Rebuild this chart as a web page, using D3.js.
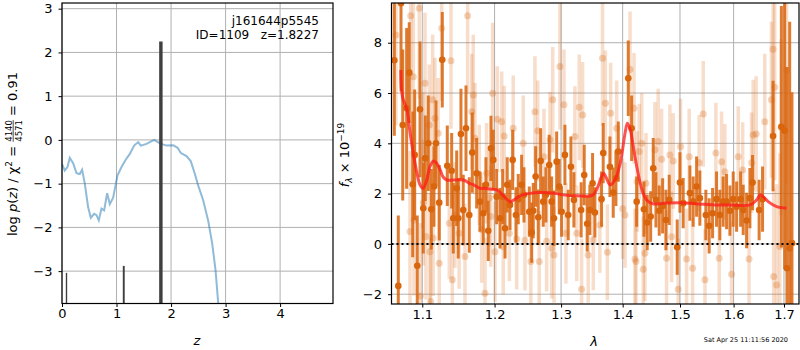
<!DOCTYPE html>
<html>
<head>
<meta charset="utf-8">
<script src="https://cdn.jsdelivr.net/npm/d3@7"></script>
<style>
  body { margin: 0; background: #fff; }
  text { font-family: "DejaVu Sans", sans-serif; }
</style>
</head>
<body>
<svg id="chart" width="800" height="350"></svg>
<script>
// ---- left panel: redshift probability
const zTicks = [0, 1, 2, 3, 4];
const pzTicks = [-3, -2, -1, 0, 1, 2, 3];

const pzZ = [0.00,0.05,0.10,0.143,0.204,0.266,0.327,0.369,0.418,0.48,0.528,0.59,0.633,0.675,0.724,0.773,0.828,0.877,0.938,1.018,1.092,1.165,1.244,1.323,1.397,1.446,1.55,1.69,1.795,1.917,2.04,2.12,2.18,2.284,2.363,2.437,2.497,2.589,2.68,2.755,2.816,2.865,2.90];
const pzLog = [-0.55,-0.70,-0.62,-0.41,-0.53,-0.76,-0.78,-0.68,-1.00,-1.54,-1.78,-1.69,-1.72,-1.84,-1.57,-1.61,-1.22,-1.47,-1.32,-0.81,-0.62,-0.46,-0.32,-0.13,-0.05,-0.13,-0.09,0.00,-0.08,-0.13,-0.12,-0.18,-0.30,-0.37,-0.49,-0.78,-1.04,-1.38,-1.84,-2.37,-2.98,-3.74,-4.3];

// p(z) peaks (z range and peak height)
const peakLo = [0.07, 1.115, 1.782];
const peakHi = [0.095, 1.15, 1.845];
const peakTop = [-3.04, -2.88, 2.25];

// ---- right panel: spectrum
const lamTicks = [1.1, 1.2, 1.3, 1.4, 1.5, 1.6, 1.7];
const fluxTicks = [-2, 0, 2, 4, 6, 8];

const darkWave = [1.0636,1.0687,1.0722,1.0744,1.0795,1.0829,1.0874,1.0900,1.0934,1.0970,
  1.1013,1.1040,1.1080,1.1120,1.1156,1.1183,1.1227,1.1268,1.1336,1.1396,
  1.1418,1.1465,1.1487,1.1524,1.1556,1.1594,1.1640,1.1682,1.1744,1.1791,
  1.1838,1.1876,1.1909,1.1948,1.1981,1.2030,1.2079,1.2117,1.2152,1.2184,
  1.2225,1.2264,1.2313,1.2347,1.2397,1.2432,1.2512,1.2548,1.2572,1.2608,
  1.2648,1.2684,1.2724,1.2765,1.2816,1.2853,1.2889,1.2931,1.2971,1.3008,
  1.3060,1.3112,1.3155,1.3202,1.3318,1.3367,1.3415,1.3458,1.3502,1.3540,
  1.3649,1.3676,1.3787,1.3842,1.3887,1.3926,1.4095,1.4152,1.4238,1.4363,
  1.4420,1.4480,1.4525,1.4572,1.4630,1.4690,1.4748,1.4807,1.4950,1.4999,
  1.5058,1.5180,1.5240,1.5303,1.5363,1.5474,1.5536,1.5600,1.5675,1.5737,
  1.5800,1.5865,1.5929,1.5992,1.6058,1.6135,1.6186,1.6252,1.6317,1.6369,
  1.6499,1.6567,1.6778,1.6947,1.7014,1.7061,1.7117,1.7164];
const darkFlux = [7.30,-1.67,9.57,4.73,5.39,6.81,2.37,3.54,-0.87,5.35,
  1.42,3.41,4.00,1.38,2.28,4.00,1.64,7.32,3.11,2.91,
  1.02,2.21,1.02,4.37,1.35,4.60,1.15,3.63,2.81,1.68,
  1.22,2.35,0.52,3.80,3.34,1.88,1.02,1.88,0.62,2.35,
  1.55,3.34,1.15,1.78,2.35,1.95,1.28,0.45,1.32,2.68,
  1.06,3.30,1.68,1.95,3.14,1.68,1.02,3.27,2.28,1.28,
  3.54,1.15,3.07,1.75,1.35,2.74,0.80,1.35,2.41,1.25,
  1.78,3.61,3.07,2.04,2.61,3.67,6.59,4.60,1.68,1.38,
  0.85,1.09,3.01,1.75,1.32,1.51,0.95,1.75,-0.13,2.44,
  1.62,2.02,1.68,2.28,1.82,1.15,0.72,1.22,1.78,1.15,
  1.68,1.68,1.32,1.78,1.48,1.78,1.35,0.93,1.82,2.44,
  1.35,1.78,4.29,4.66,4.50,-0.97,-0.17,0.03];
const darkErr = [3.0,2.8,3.5,3.0,3.2,2.0,2.9,2.6,2.0,2.7,
  1.8,1.7,1.9,1.6,1.6,1.7,1.5,1.9,1.6,1.5,
  1.4,1.5,1.6,1.8,1.4,1.7,1.5,1.6,1.4,1.2,
  1.2,1.1,1.2,1.3,1.2,1.1,1.2,1.1,1.2,1.1,
  1.0,1.2,1.1,1.0,1.2,1.1,1.0,1.2,1.1,1.2,
  1.1,1.3,1.0,1.1,1.2,1.0,1.1,1.2,1.1,1.0,
  1.2,1.0,1.2,1.1,1.1,1.2,1.1,1.0,1.2,1.0,
  1.1,1.2,1.2,1.0,1.1,1.2,1.5,1.3,1.0,1.1,
  1.1,1.0,1.2,1.1,1.0,1.1,1.2,1.0,1.1,1.2,
  1.0,1.1,1.0,1.2,1.1,1.0,1.1,1.0,1.1,1.0,
  1.0,1.1,1.0,1.1,1.0,1.1,1.0,1.1,1.2,1.1,
  1.2,1.3,2.2,4.8,5.5,8.0,9.0,6.0];

const lightWave = [1.0657,1.0838,1.0848,1.0882,1.0891,1.0960,1.0976,1.1005,1.1013,1.1036,
  1.1049,1.1093,1.1102,1.1112,1.1138,1.1145,1.1169,1.1213,1.1227,1.1260,
  1.1364,1.1387,1.1405,1.1441,1.1499,1.1580,1.1617,1.1674,1.1696,1.1720,
  1.1780,1.1815,1.1862,1.1885,1.1924,1.1945,1.1972,1.2006,1.2039,1.2103,
  1.2126,1.2140,1.2215,1.2272,1.2323,1.2421,1.2447,1.2535,1.2598,1.2640,
  1.2663,1.2735,1.2776,1.2827,1.2853,1.2869,1.2890,1.2982,1.3045,1.3076,
  1.3218,1.3247,1.3287,1.3325,1.3341,1.3431,1.3514,1.3621,1.3665,1.3712,
  1.3745,1.3799,1.3899,1.4000,1.4040,1.4125,1.4192,1.4209,1.4226,1.4245,
  1.4282,1.4325,1.4351,1.4380,1.4398,1.4555,1.4612,1.4672,1.4760,1.4819,
  1.4849,1.4878,1.4968,1.5010,1.5120,1.5167,1.5229,1.5350,1.5426,1.5458,
  1.5662,1.5725,1.5770,1.5832,1.5961,1.6089,1.6175,1.6300,1.6350,1.6381,
  1.6440,1.6612,1.6745,1.6778,1.6790,1.6811,1.6850,1.6914,1.6940,1.7054];
const lightFlux = [8.31,0.49,9.07,6.65,0.95,9.37,-2.07,3.34,1.64,6.39,
  0.29,4.73,-0.31,-2.29,5.73,0.23,5.00,4.40,-0.77,8.58,
  0.82,7.28,-1.43,1.15,0.42,-0.50,9.07,5.26,5.92,4.20,
  2.74,0.56,-1.96,2.81,1.83,1.09,5.99,-0.31,4.96,4.86,
  -0.11,4.29,0.42,4.60,0.19,4.00,0.15,-0.70,5.26,4.50,
  -0.70,3.47,0.11,4.14,-0.17,5.73,-0.44,7.05,5.53,0.42,
  4.27,0.42,5.43,-1.80,5.13,-0.44,0.16,0.75,7.38,5.59,
  -0.33,5.20,4.60,1.40,1.15,6.94,5.39,-0.60,-0.70,2.48,
  3.67,4.00,-1.01,-0.37,2.41,3.74,4.07,3.37,-0.57,3.54,
  0.28,3.30,-1.80,3.87,-0.60,3.47,-0.97,3.23,5.17,-1.43,
  3.61,-0.57,3.27,2.87,-1.21,3.47,2.94,-0.60,3.23,4.33,
  4.37,4.86,5.73,7.74,-1.30,6.23,-1.63,-0.10,4.64,6.89];
const lightErr = [3.6,3.2,3.8,3.0,3.0,3.6,2.9,2.7,2.5,2.8,
  2.5,2.4,2.3,2.5,2.6,2.3,2.4,2.2,2.3,2.9,
  2.2,2.7,2.3,2.1,2.2,2.1,3.1,2.3,2.4,2.2,
  2.0,2.1,2.2,2.0,1.9,2.0,2.8,2.0,2.1,2.0,
  1.9,2.0,1.9,2.1,2.0,1.9,2.0,2.1,2.2,2.0,
  2.0,1.9,2.0,1.9,2.0,2.1,1.9,2.5,2.2,2.0,
  2.0,1.9,2.1,2.0,2.1,1.9,2.0,1.9,2.7,2.1,
  1.9,2.0,1.9,2.0,2.1,2.3,2.2,2.0,2.1,2.0,
  1.9,2.0,2.1,1.9,2.0,1.9,2.1,2.0,1.9,2.0,
  1.8,1.9,2.0,1.9,2.0,1.9,2.0,1.9,2.1,2.0,
  2.0,1.9,2.0,1.9,2.1,2.0,1.9,2.1,2.0,2.2,
  2.3,2.7,3.1,3.5,3.5,3.7,4.0,3.7,3.5,4.5];

const modelWave = [1.072,1.074,1.080,1.084,1.088,1.093,1.097,1.101,1.106,1.110,1.115,1.119,1.124,1.128,1.133,1.142,1.156,1.165,1.170,1.179,1.184,1.193,1.203,1.208,1.215,1.223,1.230,1.237,1.252,1.267,1.290,1.303,1.325,1.351,1.360,1.368,1.373,1.379,1.387,1.396,1.404,1.408,1.413,1.418,1.424,1.433,1.441,1.453,1.470,1.500,1.530,1.564,1.593,1.632,1.645,1.652,1.658,1.668,1.685,1.705];
const modelFlux = [6.92,5.86,5.33,4.41,3.62,2.82,2.35,2.21,2.54,3.06,3.30,3.22,2.94,2.66,2.54,2.54,2.54,2.40,2.35,2.21,2.21,2.18,2.15,2.05,1.85,1.68,1.78,1.91,2.01,2.04,2.01,1.95,1.91,1.95,2.35,2.81,2.61,2.35,2.54,3.21,4.40,4.80,4.53,3.87,3.07,2.15,1.75,1.59,1.62,1.64,1.59,1.55,1.55,1.55,1.75,1.95,1.88,1.68,1.48,1.42];

const svg = d3.select("#chart");
const orange = "#d9650d";
const gridColor = "#b0b0b0";

function styleAxis(g) {
  g.select(".domain").remove();
  g.selectAll(".tick line").attr("stroke", "#000").attr("stroke-width", 1);
  g.selectAll(".tick text").attr("font-size", 13).attr("fill", "#000")
    .attr("font-family", "DejaVu Sans");
}

// ================= LEFT PANEL =================
const zX = d3.scaleLinear().domain([0, 4.97]).range([62, 333]);
const zY = d3.scaleLinear().domain([-3.74, 3.13]).range([303.5, 3]);

svg.append("clipPath").attr("id", "clipL").append("rect")
  .attr("x", 62).attr("y", 3).attr("width", 271).attr("height", 300.5);

const left = svg.append("g");
left.selectAll(".gx").data(zTicks).enter().append("line")
  .attr("x1", d => zX(d)).attr("x2", d => zX(d))
  .attr("y1", 3).attr("y2", 303.5)
  .attr("stroke", gridColor).attr("stroke-width", 1);
left.selectAll(".gy").data(pzTicks).enter().append("line")
  .attr("x1", 62).attr("x2", 333)
  .attr("y1", d => zY(d)).attr("y2", d => zY(d))
  .attr("stroke", gridColor).attr("stroke-width", 1);

const pzLine = d3.line().x(d => zX(d[0])).y(d => zY(d[1]));
left.append("path")
  .datum(pzZ.map((z, i) => [z, pzLog[i]]))
  .attr("d", pzLine)
  .attr("clip-path", "url(#clipL)")
  .attr("fill", "none").attr("stroke", "#1f77b4").attr("stroke-opacity", 0.5)
  .attr("stroke-width", 2);

left.selectAll(".peak").data(peakTop).enter().append("rect")
  .attr("x", (d, i) => zX(peakLo[i]))
  .attr("width", (d, i) => zX(peakHi[i]) - zX(peakLo[i]))
  .attr("y", d => zY(d))
  .attr("height", d => zY(-3.74) - zY(d))
  .attr("fill", "#3f3f3f");

left.append("rect").attr("x", 62).attr("y", 3).attr("width", 271).attr("height", 300.5)
  .attr("fill", "none").attr("stroke", "#000").attr("stroke-width", 1.2);

svg.append("g").attr("transform", "translate(0,303.5)")
  .call(d3.axisBottom(zX).tickValues(zTicks).tickSize(3.5).tickPadding(2).tickFormat(d3.format("d")))
  .call(styleAxis);
svg.append("g").attr("transform", "translate(62,0)")
  .call(d3.axisLeft(zY).tickValues(pzTicks).tickSize(3.5).tickPadding(6).tickFormat(d3.format("d")))
  .call(styleAxis);

svg.append("text").attr("x", 319).attr("y", 25).attr("text-anchor", "end")
  .attr("font-size", 12).text("j161644p5545");
svg.append("text").attr("x", 319).attr("y", 39).attr("text-anchor", "end")
  .attr("font-size", 12).attr("xml:space", "preserve").text("ID=1109   z=1.8227");

svg.append("text").attr("x", 197).attr("y", 345).attr("text-anchor", "middle")
  .attr("font-size", 13).attr("font-style", "italic").text("z");

// rotated y label with a stacked fraction
const ylab = svg.append("g").attr("transform", "translate(17,154) rotate(-90)");
const part1 = ylab.append("text").attr("font-size", 13).attr("xml:space", "preserve");
part1.append("tspan").text("log ");
part1.append("tspan").attr("font-style", "italic").text("p");
part1.append("tspan").text("(");
part1.append("tspan").attr("font-style", "italic").text("z");
part1.append("tspan").text(") / χ");
part1.append("tspan").attr("font-size", 9).attr("dy", -5).text("2");
part1.append("tspan").attr("dy", 5).text(" = ");
const w1 = part1.node().getComputedTextLength();
const num = ylab.append("text").attr("font-size", 8.5).attr("text-anchor", "middle").text("4140");
const den = ylab.append("text").attr("font-size", 8.5).attr("text-anchor", "middle").text("4571");
const wf = Math.max(num.node().getComputedTextLength(), den.node().getComputedTextLength());
num.attr("x", w1 + wf / 2).attr("y", -5.5);
den.attr("x", w1 + wf / 2).attr("y", 4.5);
ylab.append("line").attr("x1", w1).attr("x2", w1 + wf).attr("y1", -3.8).attr("y2", -3.8)
  .attr("stroke", "#000").attr("stroke-width", 0.7);
const part2 = ylab.append("text").attr("font-size", 13).attr("x", w1 + wf)
  .attr("xml:space", "preserve").text(" = 0.91");
const wTot = w1 + wf + part2.node().getComputedTextLength();
ylab.attr("transform", `translate(17,${154 + wTot / 2}) rotate(-90)`);

// ================= RIGHT PANEL =================
const wX = d3.scaleLog().domain([1.06, 1.731]).range([391.5, 799]);
const wY = d3.scaleLinear().domain([-2.39, 9.58]).range([304, 3]);

svg.append("clipPath").attr("id", "clipR").append("rect")
  .attr("x", 391.5).attr("y", 3).attr("width", 407.5).attr("height", 301);

const right = svg.append("g");
right.selectAll(".gx").data(lamTicks).enter().append("line")
  .attr("x1", d => wX(d)).attr("x2", d => wX(d))
  .attr("y1", 3).attr("y2", 304)
  .attr("stroke", gridColor).attr("stroke-width", 1);
right.selectAll(".gy").data(fluxTicks).enter().append("line")
  .attr("x1", 391.5).attr("x2", 799)
  .attr("y1", d => wY(d)).attr("y2", d => wY(d))
  .attr("stroke", gridColor).attr("stroke-width", 1);

const plot = right.append("g").attr("clip-path", "url(#clipR)");

const lightPts = lightWave.map((w, i) => ({w: w, f: lightFlux[i], e: lightErr[i]}));
const darkPts = darkWave.map((w, i) => ({w: w, f: darkFlux[i], e: darkErr[i]}));

plot.selectAll(".lbar").data(lightPts).enter().append("line")
  .attr("x1", d => wX(d.w)).attr("x2", d => wX(d.w))
  .attr("y1", d => wY(d.f - d.e)).attr("y2", d => wY(d.f + d.e))
  .attr("stroke", orange).attr("stroke-opacity", 0.22).attr("stroke-width", 3.5);
plot.selectAll(".ldot").data(lightPts).enter().append("circle")
  .attr("cx", d => wX(d.w)).attr("cy", d => wY(d.f)).attr("r", 3.5)
  .attr("fill", orange).attr("fill-opacity", 0.28);

plot.selectAll(".dbar").data(darkPts).enter().append("line")
  .attr("x1", d => wX(d.w)).attr("x2", d => wX(d.w))
  .attr("y1", d => wY(d.f - d.e)).attr("y2", d => wY(d.f + d.e))
  .attr("stroke", orange).attr("stroke-opacity", 0.85).attr("stroke-width", 3);
plot.selectAll(".ddot").data(darkPts).enter().append("circle")
  .attr("cx", d => wX(d.w)).attr("cy", d => wY(d.f)).attr("r", 3.3)
  .attr("fill", orange);

const modelLine = d3.line().curve(d3.curveCatmullRom)
  .x(d => wX(d[0])).y(d => wY(d[1]));
plot.append("path")
  .datum(modelWave.map((w, i) => [w, modelFlux[i]]))
  .attr("d", modelLine)
  .attr("fill", "none").attr("stroke", "#ff1a1a").attr("stroke-opacity", 0.75)
  .attr("stroke-width", 3).attr("stroke-linejoin", "round");

plot.append("line").attr("x1", 391.5).attr("x2", 799)
  .attr("y1", wY(0)).attr("y2", wY(0))
  .attr("stroke", "#000").attr("stroke-width", 2).attr("stroke-dasharray", "2,3");

right.append("rect").attr("x", 391.5).attr("y", 3).attr("width", 407.5).attr("height", 301)
  .attr("fill", "none").attr("stroke", "#000").attr("stroke-width", 1.2);

svg.append("g").attr("transform", "translate(0,304)")
  .call(d3.axisBottom(wX).tickValues(lamTicks).tickSize(3.5).tickPadding(2).tickFormat(d3.format(".1f")))
  .call(styleAxis);
svg.append("g").attr("transform", "translate(391.5,0)")
  .call(d3.axisLeft(wY).tickValues(fluxTicks).tickSize(3.5).tickPadding(6).tickFormat(d3.format("d")))
  .call(styleAxis);

svg.append("text").attr("x", 594).attr("y", 346).attr("text-anchor", "middle")
  .attr("font-size", 13).attr("font-style", "italic").text("λ");

const rlab = svg.append("text").attr("font-size", 13)
  .attr("transform", "translate(349,155) rotate(-90)").attr("text-anchor", "middle");
rlab.append("tspan").attr("font-style", "italic").text("f");
rlab.append("tspan").attr("font-size", 9).attr("dy", 3).attr("font-style", "italic").text("λ");
rlab.append("tspan").attr("dy", -3).text(" × 10");
rlab.append("tspan").attr("font-size", 9).attr("dy", -5).text("−19");

svg.append("text").attr("x", 788).attr("y", 342).attr("text-anchor", "end")
  .attr("font-size", 6.5).text("Sat Apr 25 11:11:56 2020");
</script>
</body>
</html>
